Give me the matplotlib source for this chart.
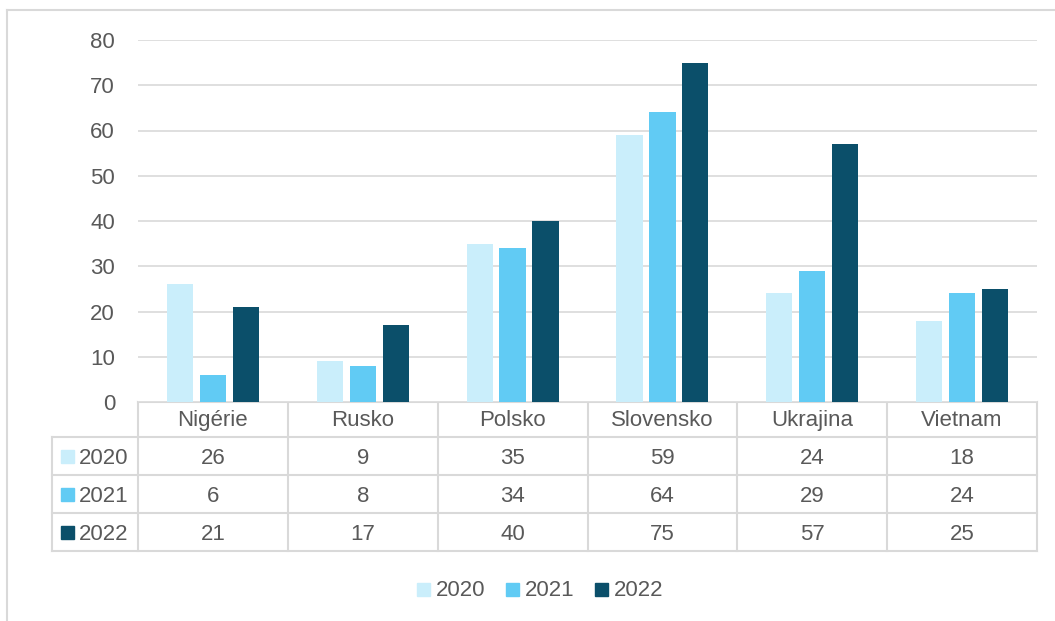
import matplotlib.pyplot as plt
from matplotlib.patches import Rectangle

plt.rcParams['font.family'] = ['Liberation Sans', 'DejaVu Sans']

# Data
countries = ["Nigérie", "Rusko", "Polsko", "Slovensko", "Ukrajina", "Vietnam"]
years = ["2020", "2021", "2022"]
v2020 = [26, 9, 35, 59, 24, 18]
v2021 = [6, 8, 34, 64, 29, 24]
v2022 = [21, 17, 40, 75, 57, 25]
series = [v2020, v2021, v2022]
colors = ["#CAEEFB", "#61CBF4", "#0B4F6A"]
yticks = [0, 10, 20, 30, 40, 50, 60, 70, 80]

TXT = "#595959"
GRID = "#D9D9D9"
W, H = 1055, 621
fs = 16

fig = plt.figure(figsize=(W / 100, H / 100), dpi=100)

# plot area in pixel coords
x0, x1, ytop, ybot = 138, 1037, 40, 402
ax = fig.add_axes([x0 / W, 1 - ybot / H, (x1 - x0) / W, (ybot - ytop) / H])
n = len(countries)
bw = 0.175
step = 0.22
for i, vals in enumerate(series):
    xs = [k + (i - 1) * step for k in range(n)]
    ax.bar(xs, vals, width=bw, color=colors[i], zorder=3)
ax.set_xlim(-0.5, n - 0.5)
ax.set_ylim(0, 80)
ax.set_yticks(yticks)
ax.set_yticklabels([str(t) for t in yticks], fontsize=fs, color=TXT)
ax.tick_params(axis='y', length=0, pad=16.5)
ax.set_xticks([])
ax.grid(axis='y', color=GRID, linewidth=1.2, zorder=0)
for s in ax.spines.values():
    s.set_visible(False)

# overlay for table, legend and frame (pixel coordinates)
ov = fig.add_axes([0, 0, 1, 1], zorder=-1)
ov.set_xlim(0, W)
ov.set_ylim(H, 0)
ov.axis('off')
ov.patch.set_alpha(0)

lc = dict(color=GRID, linewidth=1.5)
# outer frame
ov.plot([7, 7], [10, H + 5], **lc)
ov.plot([7, W + 5], [10, 10], **lc)

# table grid
colw = (x1 - x0) / n
rows = [402, 437, 475, 513, 551]
xl = 52
ov.plot([x0, x1], [rows[0], rows[0]], **lc)
for y in rows[1:]:
    ov.plot([xl, x1], [y, y], **lc)
ov.plot([xl, xl], [rows[1], rows[-1]], **lc)
for k in range(n + 1):
    xv = x0 + k * colw
    ov.plot([xv, xv], [rows[0], rows[-1]], **lc)

for k, c in enumerate(countries):
    ov.text(x0 + (k + 0.5) * colw, (rows[0] + rows[1]) / 2 + 1, c,
            ha='center', va='center', fontsize=fs, color=TXT)
for i, vals in enumerate(series):
    yc = (rows[i + 1] + rows[i + 2]) / 2
    ov.add_patch(Rectangle((61, yc - 6), 13, 13, color=colors[i]))
    ov.text(79, yc + 2, years[i], ha='left', va='center', fontsize=fs,
            color=TXT)
    for k, v in enumerate(vals):
        ov.text(x0 + (k + 0.5) * colw, yc + 2, str(v), ha='center',
                va='center', fontsize=fs, color=TXT)

# bottom legend
leg_x = [417, 506, 595]
for i, y in enumerate(years):
    ov.add_patch(Rectangle((leg_x[i], 583), 13, 13, color=colors[i]))
    ov.text(leg_x[i] + 19, 590.5, y, ha='left', va='center', fontsize=fs,
            color=TXT)

fig.savefig("out.png", dpi=100, facecolor="white")
